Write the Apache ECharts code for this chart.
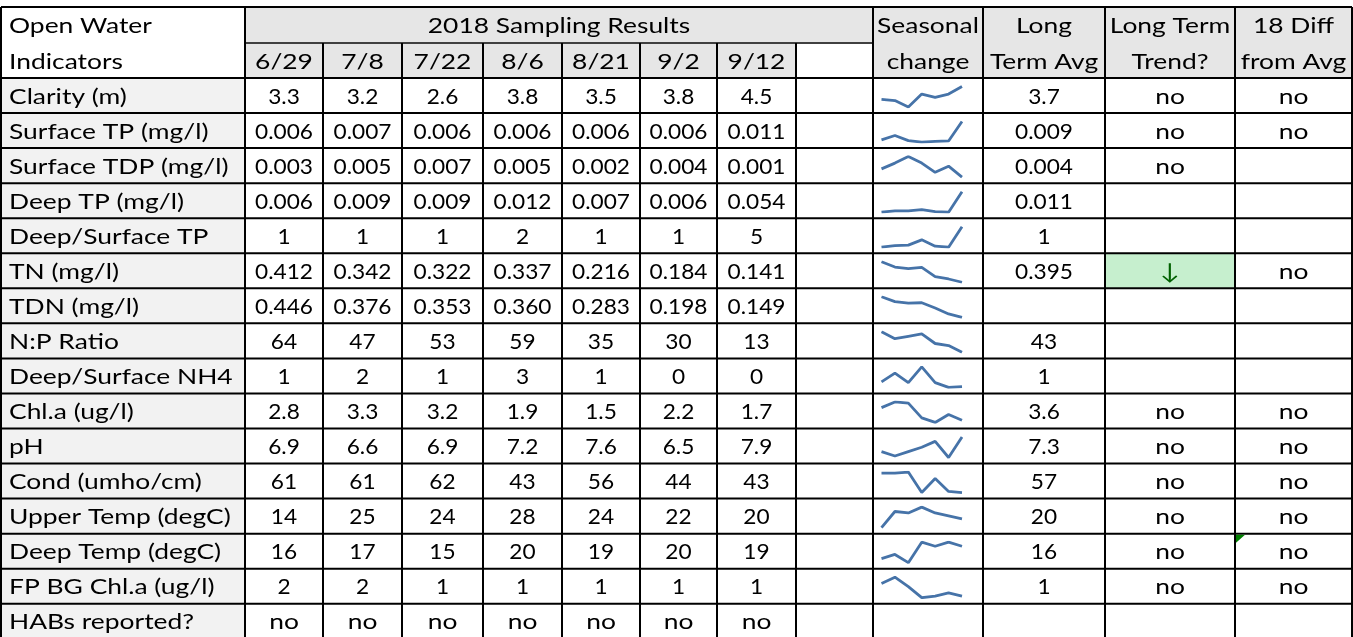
<!DOCTYPE html>
<html>
<head>
<meta charset="utf-8">
<title>Open Water Indicators</title>
<script src="https://cdn.jsdelivr.net/npm/echarts@6/dist/echarts.min.js"></script>
<style>html,body{margin:0;padding:0;background:#fff}#main{width:1353px;height:637px}</style>
</head>
<body>
<div id="main"></div>
<script>
// 表格数据
var dates = ['6/29', '7/8', '7/22', '8/6', '8/21', '9/2', '9/12'];
var indicators = ['Clarity (m)', 'Surface TP (mg/l)', 'Surface TDP (mg/l)', 'Deep TP (mg/l)', 'Deep/Surface TP',
    'TN (mg/l)', 'TDN (mg/l)', 'N:P Ratio', 'Deep/Surface NH4', 'Chl.a (ug/l)', 'pH', 'Cond (umho/cm)',
    'Upper Temp (degC)', 'Deep Temp (degC)', 'FP BG Chl.a (ug/l)', 'HABs reported?'];

var clarity = [3.3, 3.2, 2.6, 3.8, 3.5, 3.8, 4.5];
var surfaceTP = [0.0062, 0.0074, 0.0060, 0.0056, 0.0058, 0.0059, 0.0112];
var surfaceTDP = [0.0034, 0.0051, 0.0070, 0.0051, 0.0024, 0.0042, 0.0010];
var deepTP = [0.006, 0.009, 0.009, 0.012, 0.007, 0.006, 0.054];
var deepSurfaceTP = [1.0, 1.3, 1.4, 2.4, 1.2, 1.0, 4.9];
var tn = [0.412, 0.342, 0.322, 0.337, 0.216, 0.184, 0.141];
var tdn = [0.446, 0.376, 0.353, 0.360, 0.283, 0.198, 0.149];
var npRatio = [64, 47, 53, 59, 35, 30, 13];
var deepSurfaceNH4 = [0.8, 2.1, 0.7, 3.0, 0.7, 0.0, 0.1];
var chla = [2.8, 3.3, 3.2, 1.9, 1.5, 2.2, 1.7];
var ph = [6.9, 6.6, 6.9, 7.2, 7.6, 6.5, 7.9];
var cond = [61, 61, 62, 43, 56, 44, 43];
var upperTemp = [14, 25, 24, 28, 24, 22, 20];
var deepTemp = [16, 17, 15, 20, 19, 20, 19];
var fpbgChla = [1.6, 2.0, 1.4, 0.7, 0.8, 1.0, 0.8];
var habs = ['no', 'no', 'no', 'no', 'no', 'no', 'no'];
var decimals = [1, 3, 3, 3, 0, 3, 3, 0, 0, 1, 1, 0, 0, 0, 0];

var longTermAvg = ['3.7', '0.009', '0.004', '0.011', '1', '0.395', '', '43', '1', '3.6', '7.3', '57', '20', '16', '1', ''];
var longTermTrend = ['no', 'no', 'no', '', '', '\u2193', '', '', '', 'no', 'no', 'no', 'no', 'no', 'no', ''];
var diffFromAvg = ['no', 'no', '', '', '', 'no', '', '', '', 'no', 'no', 'no', 'no', 'no', 'no', ''];

var sparkRows = [clarity, surfaceTP, surfaceTDP, deepTP, deepSurfaceTP, tn, tdn, npRatio, deepSurfaceNH4,
    chla, ph, cond, upperTemp, deepTemp, fpbgChla];

// 布局
var colX = [1, 245, 323, 402, 483, 562, 640, 717, 796, 873, 983, 1105, 1235, 1352];
var yTop = 7, yMid = 43, yBody = 78, rowH = 35.05, yEnd = 640;
var FONT = '22px Lato, "Open Sans", sans-serif';
var SX = 1.2, SX_NUM = 1.03;   // 文字横向拉伸
function rowY(i) { return yBody + i * rowH; }
function colMid(j) { return (colX[j] + colX[j + 1]) / 2; }

function txt(str, x, y, align, color) {
    var sx = /^[0-9.]+$/.test(str) ? SX_NUM : SX;
    return {
        type: 'text', x: x, y: y, scaleX: sx, z: 30, silent: true,
        style: {
            text: str, x: 0, y: 0, font: FONT, fill: color || '#000',
            align: align || 'center', verticalAlign: 'middle',
            textAlign: align || 'center', textVerticalAlign: 'middle'
        }
    };
}
function rect(x, y, w, h, fill) {
    return { type: 'rect', z: 1, silent: true, shape: { x: x, y: y, width: w, height: h }, style: { fill: fill } };
}
function line(x1, y1, x2, y2, color) {
    return { type: 'line', z: 40, silent: true, shape: { x1: x1, y1: y1, x2: x2, y2: y2 },
        style: { stroke: color || '#000', lineWidth: 2 } };
}

var els = [];
// 灰色底
els.push(rect(colX[1], yTop, colX[9] - colX[1], yMid - yTop, '#e6e6e6'));
els.push(rect(colX[1], yMid, colX[8] - colX[1], yBody - yMid, '#e6e6e6'));
els.push(rect(colX[9], yTop, colX[13] - colX[9], yBody - yTop, '#e6e6e6'));
els.push(rect(colX[0], yBody, colX[1] - colX[0], yEnd - yBody, '#f2f2f2'));
els.push(rect(colX[11], rowY(5), colX[12] - colX[11], rowH, '#c6efce'));

// 表头
var yH1 = (yTop + yMid) / 2 + 1, yH2 = (yMid + yBody) / 2 + 1;
var padL = colX[0] + 8;
els.push(txt('Open Water', padL, yH1, 'left'));
els.push(txt('Indicators', padL, yH2, 'left'));
els.push(txt('2018 Sampling Results', (colX[1] + colX[9]) / 2, yH1));
dates.forEach(function (d, j) { els.push(txt(d, colMid(j + 1), yH2)); });
els.push(txt('Seasonal', colMid(9), yH1));
els.push(txt('change', colMid(9), yH2));
els.push(txt('Long', colMid(10), yH1));
els.push(txt('Term Avg', colMid(10), yH2));
els.push(txt('Long Term', colMid(11), yH1));
els.push(txt('Trend?', colMid(11), yH2));
els.push(txt('18 Diff', colMid(12), yH1));
els.push(txt('from Avg', colMid(12), yH2));

// 数据行
indicators.forEach(function (name, i) {
    var y = rowY(i) + rowH / 2 + 1;
    els.push(txt(name, padL, y, 'left'));
    var vals = i < sparkRows.length ? sparkRows[i].map(function (v) { return v.toFixed(decimals[i]); }) : habs;
    vals.forEach(function (v, j) { els.push(txt(v, colMid(j + 1), y)); });
    els.push(txt(longTermAvg[i], colMid(10), y));
    els.push(txt(longTermTrend[i], colMid(11), y, 'center', i === 5 ? '#006100' : '#000'));
    els.push(txt(diffFromAvg[i], colMid(12), y));
});

// 备注小三角
els.push({ type: 'polygon', z: 45, silent: true, shape: { points: [[colX[12] + 1, rowY(13) + 1], [colX[12] + 10, rowY(13) + 1], [colX[12] + 1, rowY(13) + 9]] }, style: { fill: '#008000' } });

// 表格线
els.push(line(colX[0], yTop, colX[13], yTop));
els.push(line(colX[1], yMid, colX[9], yMid, '#404040'));
for (var i = 0; i <= 16; i++) {
    els.push(line(colX[0], rowY(i), colX[13], rowY(i)));
}
colX.forEach(function (x, j) {
    var y0 = (j >= 2 && j <= 8) ? yMid : yTop;
    els.push(line(x, y0, x, yEnd));
});

// 迷你折线图
var grids = [], xAxes = [], yAxes = [], series = [];
sparkRows.forEach(function (vals, i) {
    grids.push({ left: colX[9] + 8.5, width: 80.5, top: rowY(i) + 8.5, height: 20.5 });
    xAxes.push({ gridIndex: i, type: 'category', show: false, boundaryGap: false, data: dates });
    yAxes.push({ gridIndex: i, type: 'value', show: false, min: 'dataMin', max: 'dataMax' });
    series.push({
        type: 'line', xAxisIndex: i, yAxisIndex: i, data: vals, showSymbol: false, silent: true,
        lineStyle: { color: '#4673a8', width: 2.8 }
    });
});

var myChart = echarts.init(document.getElementById('main'));
myChart.setOption({
    animation: false,
    grid: grids,
    xAxis: xAxes,
    yAxis: yAxes,
    series: series,
    graphic: { elements: els }
});
</script>
</body>
</html>
